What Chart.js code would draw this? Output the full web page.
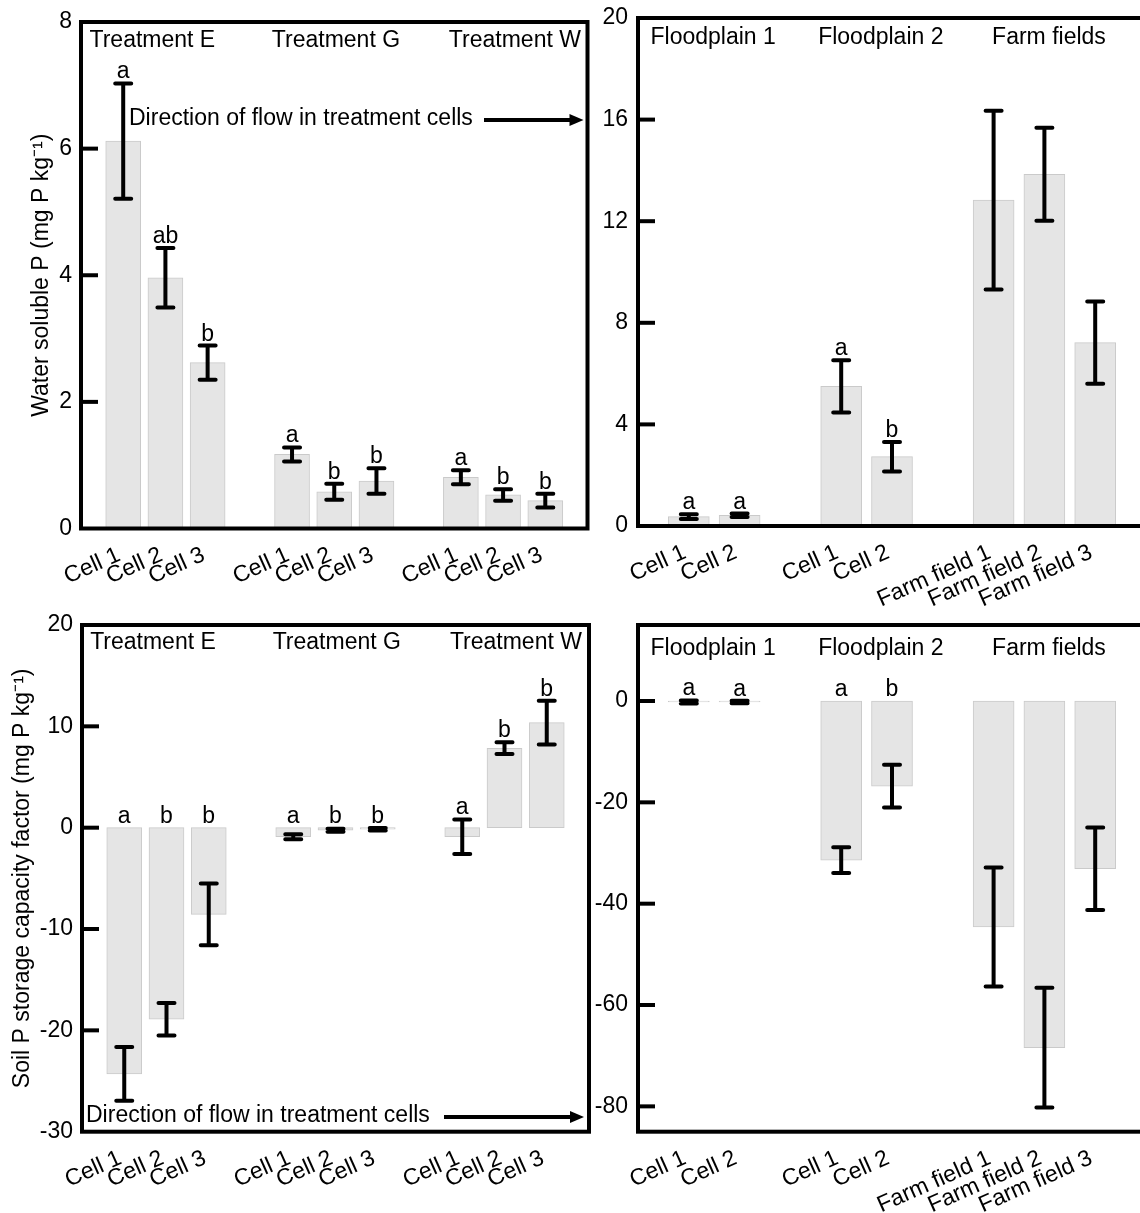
<!DOCTYPE html>
<html><head><meta charset="utf-8">
<script src="https://cdn.jsdelivr.net/npm/chart.js@4.4.1/dist/chart.umd.min.js"></script>
<style>
html,body{margin:0;padding:0;background:#fff;overflow:hidden;width:1140px;height:1213px;position:relative;}
.p{position:absolute;}
canvas{display:block;}
</style></head><body>
<div class="p" style="left:0;top:0;width:600px;height:610px"><canvas id="c1" width="600" height="610"></canvas></div>
<div class="p" style="left:590px;top:0;width:560px;height:610px"><canvas id="c2" width="560" height="610"></canvas></div>
<div class="p" style="left:0;top:610px;width:600px;height:603px"><canvas id="c3" width="600" height="603"></canvas></div>
<div class="p" style="left:590px;top:610px;width:560px;height:603px"><canvas id="c4" width="560" height="603"></canvas></div>
<script>
// ---------- categories ----------
const treatLabels = ['', 'Cell 1','Cell 2','Cell 3', '', 'Cell 1','Cell 2','Cell 3', '', 'Cell 1','Cell 2','Cell 3', ''];
const fieldLabels = ['', 'Cell 1','Cell 2', '', 'Cell 1','Cell 2', '', 'Farm field 1','Farm field 2','Farm field 3', ''];
const treatGroups = ['Treatment E','Treatment G','Treatment W'];
const fieldGroups = ['Floodplain 1','Floodplain 2','Farm fields'];

// ---------- Water soluble P, treatment cells ----------
const wspTreatMean = [null, 6.12, 3.96, 2.62, null, 1.17, 0.58, 0.75, null, 0.81, 0.53, 0.44, null];
const wspTreatErr  = [null, 0.91, 0.47, 0.27, null, 0.11, 0.125, 0.20, null, 0.11, 0.09, 0.11, null];
const wspTreatLetters = ['', 'a','ab','b', '', 'a','b','b', '', 'a','b','b', ''];

// ---------- Water soluble P, floodplains & farm fields ----------
const wspFieldMean = [null, 0.37, 0.42, null, 5.50, 2.73, null, 12.83, 13.85, 7.22, null];
const wspFieldErr  = [null, 0.09, 0.07, null, 1.03, 0.58, null, 3.52, 1.83, 1.62, null];
const wspFieldLetters = ['', 'a','a', '', 'a','b', '', '','','', ''];

// ---------- Soil P storage capacity, treatment cells ----------
const spscTreatMean = [null, -24.3, -18.9, -8.55, null, -0.89, -0.25, -0.15, null, -0.89, 7.84, 10.37, null];
const spscTreatErr  = [null, 2.65, 1.6, 3.05, null, 0.25, 0.15, 0.12, null, 1.7, 0.58, 2.15, null];
const spscTreatLetters = ['', 'a','b','b', '', 'a','b','b', '', 'a','b','b', ''];

// ---------- Soil P storage capacity, floodplains & farm fields ----------
const spscFieldMean = [null, -0.2, -0.2, null, -31.4, -16.8, null, -44.6, -68.4, -33.1, null];
const spscFieldErr  = [null, 0.3, 0.25, null, 2.55, 4.2, null, 11.75, 11.8, 8.15, null];
const spscFieldLetters = ['', 'a','a', '', 'a','b', '', '','','', ''];

// ---------- tick values ----------
const wspTreatTicks = [0, 2, 4, 6, 8];
const wspFieldTicks = [0, 4, 8, 12, 16, 20];
const spscTreatTicks = [-30, -20, -10, 0, 10, 20];
const spscFieldTicks = [-80, -60, -40, -20, 0];

const yTitleWSP = 'Water soluble P (mg P kg\u207B\u00B9)';
const yTitleSPSC = 'Soil P storage capacity factor (mg P kg\u207B\u00B9)';
const flowText = 'Direction of flow in treatment cells';

const FONT = '"Liberation Sans", Arial, Helvetica, sans-serif';

function panelPlugin(spec) {
  return {
    id: 'panelDeco',
    afterDatasetsDraw(chart) {
      const ctx = chart.ctx, a = chart.chartArea, x = chart.scales.x, y = chart.scales.y;
      ctx.save();
      // error bars + letters
      ctx.strokeStyle = '#000'; ctx.lineWidth = 4; ctx.lineCap = 'round';
      spec.means.forEach((m, i) => {
        if (m === null) return;
        const e = spec.errs[i];
        const px = x.getPixelForValue(i);
        const yt = y.getPixelForValue(m + e), yb = y.getPixelForValue(m - e);
        ctx.beginPath();
        ctx.moveTo(px, yt); ctx.lineTo(px, yb);
        ctx.moveTo(px - 8, yt); ctx.lineTo(px + 8, yt);
        ctx.moveTo(px - 8, yb); ctx.lineTo(px + 8, yb);
        ctx.stroke();
        const L = spec.letters[i];
        if (L) {
          ctx.fillStyle = '#000';
          ctx.font = '23px ' + FONT;
          ctx.textAlign = 'center'; ctx.textBaseline = 'alphabetic';
          const anchor = Math.min(y.getPixelForValue(0), yt);
          ctx.fillText(L, px, anchor - 5);
        }
      });
      // frame
      ctx.lineCap = 'butt'; ctx.lineJoin = 'miter'; ctx.lineWidth = 4;
      ctx.strokeRect(a.left, a.top, a.right - a.left, a.bottom - a.top);
      // inner tick marks
      spec.ticks.forEach(v => {
        if (v <= spec.min || v >= spec.max) return;
        const py = y.getPixelForValue(v);
        ctx.beginPath(); ctx.moveTo(a.left, py); ctx.lineTo(a.left + 17, py); ctx.stroke();
      });
      // group titles
      ctx.fillStyle = '#000';
      ctx.font = '23px ' + FONT;
      ctx.textAlign = 'center'; ctx.textBaseline = 'middle';
      spec.groups.forEach((g, k) => {
        ctx.fillText(g, x.getPixelForValue(spec.groupPos[k]), a.top + spec.groupDy);
      });
      // flow annotation
      if (spec.flow) {
        const f = spec.flow;
        ctx.textAlign = 'left';
        ctx.fillText(flowText, a.left + f.tx, a.top + f.ty);
        const ay = a.top + f.ay, x1 = a.left + f.ax1, x2 = a.right - f.ax2;
        ctx.beginPath(); ctx.moveTo(x1, ay); ctx.lineTo(x2 - 10, ay); ctx.stroke();
        ctx.beginPath(); ctx.moveTo(x2, ay); ctx.lineTo(x2 - 14, ay - 6); ctx.lineTo(x2 - 14, ay + 6); ctx.closePath(); ctx.fill();
      }
      ctx.restore();
    }
  };
}

function makeChart(id, spec) {
  return new Chart(document.getElementById(id), {
    type: 'bar',
    data: {
      labels: spec.labels,
      datasets: [{
        data: spec.means,
        backgroundColor: '#e5e5e5',
        borderColor: '#cacaca',
        borderWidth: 1,
        borderSkipped: false,
        barThickness: spec.barW
      }]
    },
    options: {
      responsive: false, animation: false, devicePixelRatio: 1,
      layout: { padding: spec.pad },
      plugins: { legend: { display: false }, tooltip: { enabled: false } },
      scales: {
        x: {
          type: 'category', offset: false,
          grid: { display: false, drawTicks: false }, border: { display: false },
          ticks: { autoSkip: false, minRotation: 24, maxRotation: 24, padding: 13, labelOffset: -4, color: '#000',
                   font: { family: FONT, size: 23 } },
          afterFit: s => { s.height = spec.xh; s.paddingLeft = 0; s.paddingRight = 0; }
        },
        y: {
          type: 'linear', min: spec.min, max: spec.max,
          grid: { display: false, drawTicks: false }, border: { display: false },
          afterBuildTicks: s => { s.ticks = spec.ticks.map(v => ({ value: v })); },
          ticks: { padding: spec.tickPad, color: '#000', font: { family: FONT, size: 23 } },
          title: spec.title ? { display: true, text: spec.title, color: '#000',
                   font: { family: FONT, size: 23 }, padding: { top: spec.titlePad, bottom: 0 } } : { display: false },
          afterFit: s => { s.width = spec.yw; s.paddingTop = 0; s.paddingBottom = 0; }
        }
      }
    },
    plugins: [panelPlugin(spec)]
  });
}

makeChart('c1', {
  labels: treatLabels, means: wspTreatMean, errs: wspTreatErr, letters: wspTreatLetters,
  min: 0, max: 8, ticks: wspTreatTicks, title: yTitleWSP, titlePad: 28, tickPad: 9,
  pad: { top: 22, right: 12.5, left: 0, bottom: 0 }, yw: 81, xh: 81.5, barW: 35,
  groups: treatGroups, groupPos: [1.69, 6.04, 10.28], groupDy: 19,
  flow: { tx: 48, ty: 97, ay: 98, ax1: 403, ax2: 4 }
});
makeChart('c2', {
  labels: fieldLabels, means: wspFieldMean, errs: wspFieldErr, letters: wspFieldLetters,
  min: 0, max: 20, ticks: wspFieldTicks, title: null, tickPad: 10,
  pad: { top: 18, right: 4, left: 0, bottom: 0 }, yw: 48, xh: 84, barW: 41,
  groups: fieldGroups, groupPos: [1.48, 4.78, 8.09], groupDy: 20
});
makeChart('c3', {
  labels: treatLabels, means: spscTreatMean, errs: spscTreatErr, letters: spscTreatLetters,
  min: -30, max: 20, ticks: spscTreatTicks, title: yTitleSPSC, titlePad: 9, tickPad: 9,
  pad: { top: 15, right: 11, left: 0, bottom: 0 }, yw: 82, xh: 81.3, barW: 35,
  groups: treatGroups, groupPos: [1.68, 6.03, 10.27], groupDy: 18,
  flow: { tx: 4, ty: 491, ay: 492, ax1: 362, ax2: 5 }
});
makeChart('c4', {
  labels: fieldLabels, means: spscFieldMean, errs: spscFieldErr, letters: spscFieldLetters,
  min: -85, max: 15, ticks: spscFieldTicks, title: null, tickPad: 10,
  pad: { top: 15, right: 4, left: 0, bottom: 0 }, yw: 48, xh: 81.3, barW: 41,
  groups: fieldGroups, groupPos: [1.48, 4.78, 8.09], groupDy: 24
});
</script>
</body></html>
